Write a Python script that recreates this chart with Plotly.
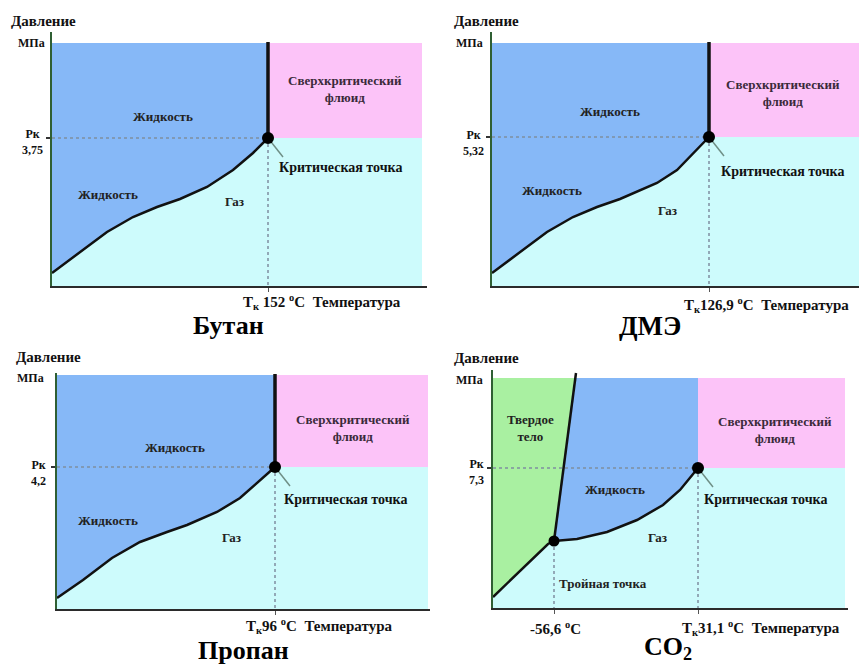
import numpy as np
import plotly.graph_objects as go

W, H = 859, 664

# ---------------- data (schematic units of each panel) ----------------
panel_names = ["Бутан", "ДМЭ", "Пропан", "CO<sub>2</sub>"]
tc_text = ["T<sub>к</sub> 152 <sup>o</sup>C", "T<sub>к</sub>126,9 <sup>o</sup>C",
           "T<sub>к</sub>96 <sup>o</sup>C", "T<sub>к</sub>31,1 <sup>o</sup>C"]
pc_text = ["3,75", "5,32", "4,2", "7,3"]
tc_pos = [216, 217, 218, 205]
pc_pos = [148, 149, 142, 140]
t_max = [370, 367, 371, 352]
p_max = [243, 243, 234, 230]

butane_T = [0, 55, 81, 105, 128, 155, 181, 201, 216]
butane_P = [13, 54, 69, 79, 87, 99, 116, 133, 148]
dme_T = [0, 55, 81, 105, 128, 165, 185, 217]
dme_P = [13, 54, 69, 79, 87, 103, 116, 149]
propane_T = [0, 26, 55, 83, 110, 130, 160, 183, 218]
propane_P = [11, 29, 51, 67, 77, 84, 97, 111, 142]
co2_T = [61, 84, 114, 144, 170, 187, 205]
co2_P = [67, 69, 76, 88, 103, 118, 140]
co2_sub_T = [0, 55, 61]
co2_sub_P = [11, 64, 67]
co2_melt_T = [61, 83]
co2_melt_P = [67, 235]
triple_T, triple_P = 61, 67
triple_text = "-56,6 <sup>o</sup>C"

curves_T = [butane_T, dme_T, propane_T, co2_T]
curves_P = [butane_P, dme_P, propane_P, co2_P]

# ---------------- layout geometry (pixels) ----------------
boxes = [(52, 427, 286, 32), (492, 859, 286, 32), (57, 430, 609, 373), (493, 848, 608, 370)]

C_GAS = "#cdfbfc"
C_LIQ = "#86b8f7"
C_SCF = "#fcc3f8"
C_SOL = "#a9f0a1"
C_DOT = "#7f8ea0"
FONT = "Liberation Serif"

fig = go.Figure()
layout = dict(width=W, height=H, margin=dict(l=0, r=0, t=0, b=0),
              paper_bgcolor="white", plot_bgcolor="rgba(0,0,0,0)",
              showlegend=False, hovermode=False, font=dict(family=FONT))
annotations = []


def ax_names(i):
    return ("x" if i == 0 else f"x{i+1}"), ("y" if i == 0 else f"y{i+1}")


def add(i, **kw):
    xr, yr = ax_names(i)
    fig.add_trace(go.Scatter(xaxis=xr, yaxis=yr, hoverinfo="skip", **kw))


def ann(i, x, y, text, size=13, color="#222", xanchor="center", yanchor="middle"):
    # position given in the panel's own units, converted to paper fractions
    x0, x1, yb, yt = boxes[i]
    annotations.append(dict(x=(x0 + x) / W, y=1 - (yb - y) / H, xref="paper", yref="paper",
                            text=text, showarrow=False,
                            xanchor=xanchor, yanchor=yanchor,
                            font=dict(family=FONT, size=size, color=color)))


for i, (x0, x1, yb, yt) in enumerate(boxes):
    xr, yr = ax_names(i)
    xk = "xaxis" if i == 0 else f"xaxis{i+1}"
    yk = "yaxis" if i == 0 else f"yaxis{i+1}"
    tc, pc, tm, pm = tc_pos[i], pc_pos[i], t_max[i], p_max[i]
    xt = [tc] if i < 3 else [triple_T, tc]
    layout[xk] = dict(domain=[x0 / W, x1 / W], range=[0, x1 - x0], anchor=yr,
                      showgrid=False, zeroline=False, showline=True, linecolor="#2b2b2b",
                      linewidth=2, tickvals=xt, ticks="outside", ticklen=4,
                      tickcolor="#555", showticklabels=False, fixedrange=True)
    layout[yk] = dict(domain=[1 - yb / H, 1 - yt / H], range=[0, yb - yt], anchor=xr,
                      showgrid=False, zeroline=False, showline=True, linecolor="#2f5f33",
                      linewidth=2, tickvals=[pc], ticks="outside", ticklen=4,
                      tickcolor="#333", tickwidth=2, showticklabels=False, fixedrange=True)

    # gas background
    add(i, x=[0, tm, tm, 0], y=[0, 0, pm, pm], fill="toself", fillcolor=C_GAS,
        mode="none")
    cT, cP = curves_T[i], curves_P[i]
    if i < 3:
        add(i, x=cT + [tc, 0], y=cP + [pm, pm], fill="toself", fillcolor=C_LIQ, mode="none")
    else:
        t_top = float(np.interp(pm, co2_melt_P, co2_melt_T))
        add(i, x=co2_sub_T + [t_top, 0], y=co2_sub_P + [pm, pm], fill="toself",
            fillcolor=C_SOL, mode="none")
        add(i, x=[triple_T, t_top, tc] + cT[::-1], y=[triple_P, pm, pm] + cP[::-1],
            fill="toself", fillcolor=C_LIQ, mode="none")
    add(i, x=[tc, tm, tm, tc], y=[pc, pc, pm, pm], fill="toself", fillcolor=C_SCF, mode="none")

    # dotted guide lines
    add(i, x=[0, tc], y=[pc, pc], mode="lines", line=dict(color=C_DOT, width=1.5, dash="dot"))
    add(i, x=[tc, tc], y=[pc, 0], mode="lines", line=dict(color=C_DOT, width=1.5, dash="dot"))
    if i == 3:
        add(i, x=[triple_T, triple_T], y=[triple_P, 0], mode="lines",
            line=dict(color=C_DOT, width=1.5, dash="dot"))

    # leader line to label
    add(i, x=[tc, tc + 15], y=[pc, pc - 19], mode="lines", line=dict(color="#6f8f86", width=1.5))

    # phase boundaries
    add(i, x=cT, y=cP, mode="lines", line=dict(color="#111", width=2.5))
    if i < 3:
        add(i, x=[tc, tc], y=[pc, pm + 1], mode="lines", line=dict(color="#111", width=3.5))
    else:
        add(i, x=co2_sub_T, y=co2_sub_P, mode="lines", line=dict(color="#111", width=2.5))
        add(i, x=co2_melt_T, y=co2_melt_P, mode="lines", line=dict(color="#111", width=2.5))
        add(i, x=[triple_T], y=[triple_P], mode="markers", marker=dict(color="#000", size=11))
    add(i, x=[tc], y=[pc], mode="markers", marker=dict(color="#000", size=12))

# ---------------- texts ----------------
B = lambda s: f"<b>{s}</b>"
# panel 1 Бутан
ann(0, -9, 265, B("Давление"), 15, "#111")
ann(0, -21, 243, B("МПа"), 12, "#111")
ann(0, -20, 144, B("Рк<br>" + pc_text[0]), 12, "#111")
ann(0, 111, 169, B("Жидкость"))
ann(0, 56, 92, B("Жидкость"))
ann(0, 182, 85, B("Газ"))
ann(0, 293, 197, B("Сверхкритический<br>флюид"), 13, "#3a2a3a")
ann(0, 288, 119, B("Критическая точка"), 14, "#111")
ann(0, 270, -16, B(tc_text[0] + "\u00a0\u00a0Температура"), 15, "#111")
ann(0, 176, -39, B(panel_names[0]), 26, "#000")
# panel 2 ДМЭ
ann(1, -6, 265, B("Давление"), 15, "#111")
ann(1, -23, 243, B("МПа"), 12, "#111")
ann(1, -18, 143, B("Рк<br>" + pc_text[1]), 12, "#111")
ann(1, 118, 174, B("Жидкость"))
ann(1, 60, 96, B("Жидкость"))
ann(1, 175, 75, B("Газ"))
ann(1, 291, 193, B("Сверхкритический<br>флюид"), 13, "#3a2a3a")
ann(1, 290, 115, B("Критическая точка"), 14, "#111")
ann(1, 274, -19, B(tc_text[1] + "\u00a0\u00a0Температура"), 15, "#111")
ann(1, 158, -40, B(panel_names[1]), 27, "#000")
# panel 3 Пропан
ann(2, -9, 252, B("Давление"), 15, "#111")
ann(2, -27, 231, B("МПа"), 12, "#111")
ann(2, -19, 136, B("Рк<br>" + pc_text[2]), 12, "#111")
ann(2, 118, 162, B("Жидкость"))
ann(2, 51, 89, B("Жидкость"))
ann(2, 174, 72, B("Газ"))
ann(2, 296, 181, B("Сверхкритический<br>флюид"), 13, "#3a2a3a")
ann(2, 288, 110, B("Критическая точка"), 14, "#111")
ann(2, 262, -17, B(tc_text[2] + "\u00a0\u00a0Температура"), 15, "#111")
ann(2, 186, -41, B(panel_names[2]), 26, "#000")
# panel 4 CO2
ann(3, -7, 250, B("Давление"), 15, "#111")
ann(3, -24, 228, B("МПа"), 12, "#111")
ann(3, -16, 136, B("Рк<br>" + pc_text[3]), 12, "#111")
ann(3, 37, 180, B("Твердое<br>тело"))
ann(3, 122, 119, B("Жидкость"))
ann(3, 164, 71, B("Газ"))
ann(3, 110, 25, B("Тройная точка"))
ann(3, 282, 178, B("Сверхкритический<br>флюид"), 13, "#3a2a3a")
ann(3, 272, 109, B("Критическая точка"), 14, "#111")
ann(3, 62, -20, B(triple_text), 15, "#111")
ann(3, 268, -20, B(tc_text[3] + "\u00a0\u00a0Температура"), 15, "#111")
ann(3, 175, -40, B(panel_names[3]), 26, "#000")

layout["annotations"] = annotations
fig.update_layout(**layout)
fig.write_html("out.html", config={"displayModeBar": False, "staticPlot": True},
               post_script="document.body.style.margin='0px';")
